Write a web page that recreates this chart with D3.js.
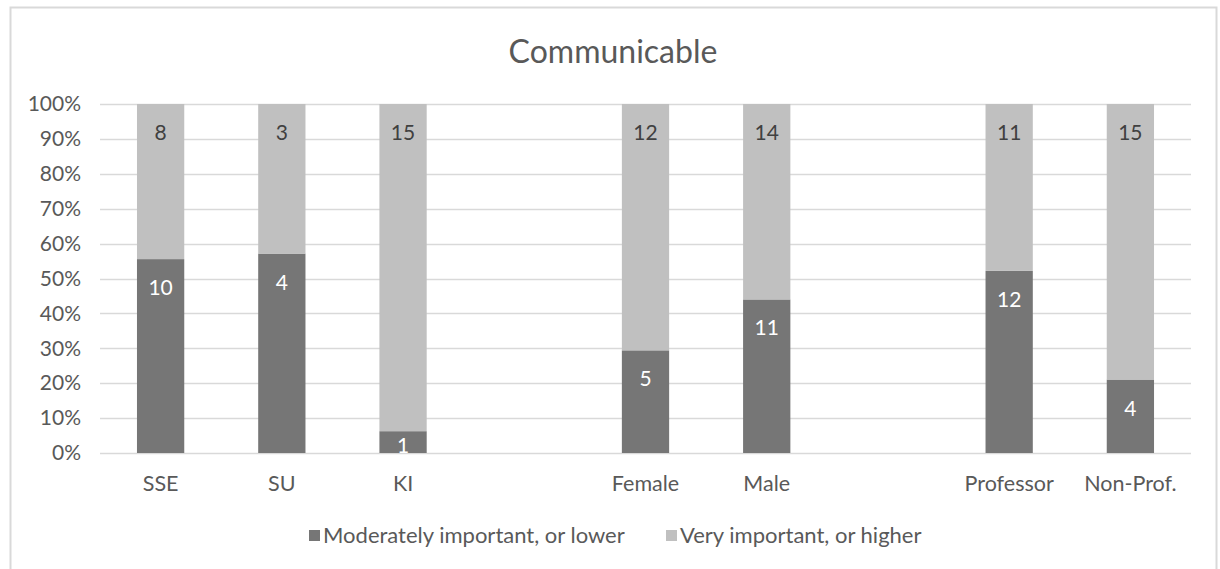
<!DOCTYPE html>
<html>
<head>
<meta charset="utf-8">
<script src="https://cdn.jsdelivr.net/npm/d3@7"></script>
<style>
  html, body { margin: 0; padding: 0; background: #fff; }
  svg { display: block; font-family: Lato, "Open Sans", sans-serif; }
</style>
</head>
<body>
<svg id="chart" width="1220" height="569"></svg>
<script>
// Category slots; empty strings are spacer slots between the groups
const categories = ["SSE", "SU", "KI", "", "Female", "Male", "", "Professor", "Non-Prof."];
// Respondent counts per category
const moderateCounts = [10, 4, 1, null, 5, 11, null, 12, 4];
const veryCounts     = [8, 3, 15, null, 12, 14, null, 11, 15];
const seriesNames = ["Moderately important, or lower", "Very important, or higher"];
const yTicks = [0, 0.1, 0.2, 0.3, 0.4, 0.5, 0.6, 0.7, 0.8, 0.9, 1.0];

const colors = ["#767676", "#c0c0c0"];
const FONT = "Lato, 'Open Sans', sans-serif";
const svg = d3.select("#chart");
const W = 1220, H = 569;
const margin = { left: 100, right: 29, top: 104, bottom: 116 };
const plotW = W - margin.left - margin.right;
const plotH = H - margin.top - margin.bottom;

// outer chart border
svg.append("rect")
  .attr("x", 10.5).attr("y", 7.5)
  .attr("width", 1206).attr("height", 580)
  .attr("fill", "#fff").attr("stroke", "#d9d9d9").attr("stroke-width", 2);

svg.append("text")
  .attr("x", 613).attr("y", 63)
  .attr("text-anchor", "middle")
  .attr("font-size", 32)
  .attr("fill", "#595959")
  .text("Communicable");

const x = d3.scaleBand()
  .domain(categories.map((c, i) => i))
  .range([margin.left, margin.left + plotW])
  .paddingInner(0.61).paddingOuter(0.305);

const y = d3.scaleLinear().domain([0, 1]).range([margin.top + plotH, margin.top]);

// gridlines
svg.append("g").selectAll("line")
  .data(yTicks)
  .join("line")
  .attr("x1", margin.left).attr("x2", margin.left + plotW)
  .attr("y1", d => Math.round(y(d)) + 0.5).attr("y2", d => Math.round(y(d)) + 0.5)
  .attr("stroke", "#d9d9d9").attr("stroke-width", 1.3);

// y axis labels
const yAxis = d3.axisLeft(y).tickValues(yTicks).tickFormat(d3.format(".0%")).tickSize(0).tickPadding(19);
const ya = svg.append("g").attr("transform", `translate(${margin.left},0)`).call(yAxis);
ya.select(".domain").remove();
ya.selectAll("text").attr("font-size", 21).attr("fill", "#595959").attr("font-family", FONT);

// stacked percentages
const rows = categories.map((c, i) => {
  const m = moderateCounts[i], v = veryCounts[i];
  if (m == null) return null;
  const t = m + v;
  return { i, c, m, v, pm: m / t, pv: v / t };
}).filter(d => d);

const gBars = svg.append("g");
rows.forEach(d => {
  const segs = [
    { y0: 0, y1: d.pm, n: d.m, fill: colors[0], text: "#ffffff" },
    { y0: d.pm, y1: 1, n: d.v, fill: colors[1], text: "#404040" }
  ];
  segs.forEach(s => {
    gBars.append("rect")
      .attr("x", x(d.i)).attr("width", x.bandwidth())
      .attr("y", y(s.y1)).attr("height", y(s.y0) - y(s.y1))
      .attr("fill", s.fill);
  });
  segs.forEach(s => {
    const segH = y(s.y0) - y(s.y1);
    gBars.append("text")
      .attr("x", x(d.i) + x.bandwidth() / 2)
      .attr("y", y(s.y1) + Math.min(36, segH / 2 + 11))
      .attr("text-anchor", "middle")
      .attr("font-size", 21)
      .attr("fill", s.text)
      .text(s.n);
  });
});

// category labels
const xAxis = d3.axisBottom(x).tickFormat(i => categories[i]).tickSize(0).tickPadding(23);
const xa = svg.append("g").attr("transform", `translate(0,${margin.top + plotH})`).call(xAxis);
xa.select(".domain").remove();
xa.selectAll("text").attr("font-size", 21.5).attr("fill", "#595959").attr("font-family", FONT);

// legend
const legendItems = [
  { name: seriesNames[0], color: colors[0], x: 309 },
  { name: seriesNames[1], color: colors[1], x: 666 }
];
const lg = svg.append("g");
legendItems.forEach(it => {
  lg.append("rect").attr("x", it.x).attr("y", 530).attr("width", 11).attr("height", 11).attr("fill", it.color);
  lg.append("text").attr("x", it.x + 14).attr("y", 543).attr("font-size", 22).attr("fill", "#595959").text(it.name);
});
</script>
</body>
</html>
